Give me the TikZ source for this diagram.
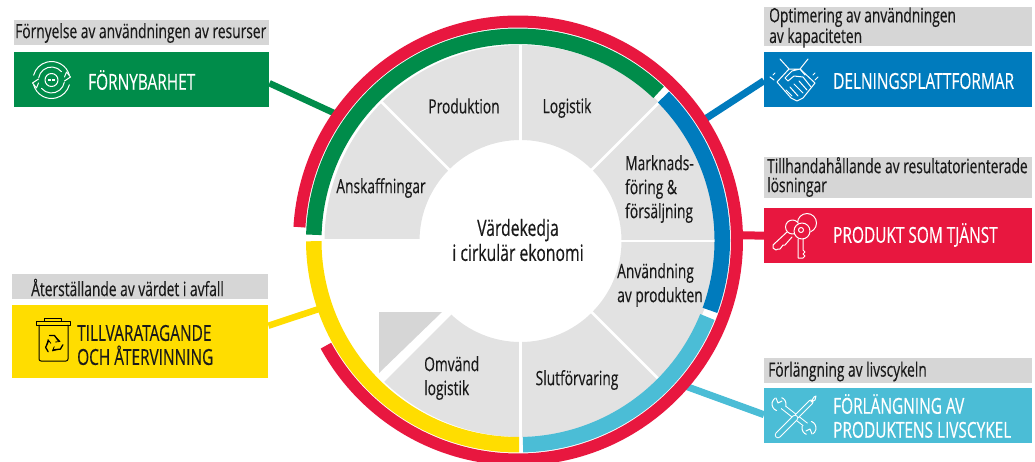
\documentclass[tikz,border=0pt]{standalone}
\usepackage{fontspec}
\setmainfont[FakeStretch=0.70,FakeBold=0.3]{Open Sans}
\usetikzlibrary{backgrounds,calc}
\definecolor{cgreen}{HTML}{008C4A}
\definecolor{cyellow}{HTML}{FFDD00}
\definecolor{cblue}{HTML}{007BBD}
\definecolor{cred}{HTML}{E8173F}
\definecolor{clblue}{HTML}{4BBDD6}
\definecolor{cgray}{HTML}{D6D6D6}
\definecolor{csector}{HTML}{E2E2E2}
\definecolor{ctxt}{HTML}{1A1A1A}
\tikzset{
  capbox/.style={fill=cgray,inner sep=0pt,minimum width=#1,anchor=north west},
  colbox/.style={fill=#1,inner sep=0pt,anchor=north west},
  captxt/.style={anchor=west,align=left,inner sep=0pt,text=ctxt,font=\fontsize{19.7}{19}\selectfont},
  boxtxt/.style={anchor=west,align=left,inner sep=0pt,font=\fontsize{22}{24}\selectfont},
  sectxt/.style={inner sep=0pt,text=ctxt,font=\fontsize{19.7}{24}\selectfont},
  link/.style={line width=#1},
  icon/.style={white,line width=1pt,line cap=round,line join=round},
}
\newcommand{\ringseg}[5]{\draw[#1,line width=#2-#3] ({-(#4)}:{(#2+#3)/2}) arc[start angle={-(#4)},end angle={-(#5)},radius={(#2+#3)/2}];}
\newcommand{\sectorseg}[2]{\fill[csector] ({-(#1)}:196) arc[start angle={-(#1)},end angle={-(#2)},radius=196] -- ({-(#2)}:101) arc[start angle={-(#2)},end angle={-(#1)},radius=101] -- cycle;}
\newcommand{\iarc}[3]{({-(#2)}:#1) arc[start angle={-(#2)},end angle={-(#3)},radius=#1]}
\begin{document}
\begin{tikzpicture}[x=1pt,y=-1pt]
\useasboundingbox (0,0) rectangle (1035,461);
\clip (0,0) rectangle (1035,461);
% sectors
\begin{scope}[shift={(520.5,241)}]
  \sectorseg{0}{45}\sectorseg{45}{90}\sectorseg{90}{135}\sectorseg{135}{180}
  \sectorseg{225}{270}\sectorseg{270}{315}\sectorseg{315}{360}
  \foreach \a in {0,45,90,135,270,315}{\draw[white,line width=2.6] (-\a:99)--(-\a:198);}
  \draw[white,line width=4] (-180:99)--(-180:198);
  \draw[white,line width=6] (-225:99)--(-225:198);
\end{scope}
\fill[cgray] (379,312)--(442,312)--(379,373)--cycle;
% rings
\begin{scope}[shift={(518,240.5)}]
  \coordinate (gend) at (-145.2:222);
  \coordinate (bend) at (-33:222);
  \coordinate (rend) at (-1.4:220);
  \coordinate (lend) at (41:222);
  \coordinate (yend) at (-199:205);
  \ringseg{cred}{225}{213}{176.5}{-151.3}
  \ringseg{cgreen}{212}{196.5}{178.4}{46.5}
  \ringseg{cblue}{212}{196.5}{44.6}{-20}
  \ringseg{clblue}{212}{196.5}{-22}{-88.6}
  \ringseg{cyellow}{212}{196.5}{180.2}{270.3}
\end{scope}
% caption bars
\node[capbox=255pt,minimum height=25pt] (c1) at (14,20) {};
\node[capbox=256pt,minimum height=25pt] (c2) at (12,274) {};
\node[capbox=268pt,minimum height=39pt] (c3) at (764,7) {};
\node[capbox=268pt,minimum height=41pt] (c4) at (764,157) {};
\node[capbox=268pt,minimum height=25pt] (c5) at (764,358) {};
% colour boxes
\node[colbox=cgreen,minimum width=255pt,minimum height=55pt] (g) at (14,52) {};
\node[colbox=cyellow,minimum width=256pt,minimum height=73pt] (y) at (12,305) {};
\node[colbox=cblue,minimum width=268pt,minimum height=55pt] (b) at (764,52) {};
\node[colbox=cred,minimum width=268pt,minimum height=55pt] (r) at (764,208) {};
\node[colbox=clblue,minimum width=268pt,minimum height=55pt] (l) at (764,388) {};
% connectors
\begin{scope}[on background layer]
  \draw[cgreen,link=6.5] ($(g.east)+(0,3.5)$) -- (gend);
  \draw[cyellow,link=6.5] ($(y.east)+(0,-16)$) -- (yend);
  \draw[cblue,link=7] ($(b.west)+(0,1)$) -- (bend);
  \draw[cred,link=8] (r.west) -- (rend);
  \draw[clblue,link=7] ($(l.west)+(0,-1)$) -- (lend);
\end{scope}
% captions
\node[captxt] (t1) at (15,33) {Förnyelse av användningen av resurser};
\node[captxt] (t2) at (31,287.5) {Återställande av värdet i avfall};
\node[captxt] (t3) at (769,27.5) {Optimering av användningen\\av kapaciteten};
\node[captxt] (t4) at (767,177) {Tillhandahållande av resultatorienterade\\lösningar};
\node[captxt] (t5) at (768,371.5) {Förlängning av livscykeln};
% box text
\node[boxtxt,text=white] (n1) at (88,80) {FÖRNYBARHET};
\node[boxtxt,text=ctxt] (n2) at (77,345) {TILLVARATAGANDE\\OCH ÅTERVINNING};
\node[boxtxt,text=white] (n3) at (833,81) {DELNINGSPLATTFORMAR};
\node[boxtxt,text=white] (n4) at (833,235) {PRODUKT SOM TJÄNST};
\node[boxtxt,text=white] (n5) at (833,416) {FÖRLÄNGNING AV\\PRODUKTENS LIVSCYKEL};
% sector text
\node[sectxt] (s1) at (381,188) {Anskaffningar};
\node[sectxt] (s2) at (464,106) {Produktion};
\node[sectxt] (s3) at (567,108) {Logistik};
\node[sectxt,anchor=west,align=left] (s4) at (625,189) {Marknads-\\föring \&\\försäljning};
\node[sectxt,anchor=west,align=left] (s5) at (617,285) {Användning\\av produkten};
\node[sectxt] (s6) at (577,380) {Slutförvaring};
\node[sectxt,anchor=west,align=left] (s7) at (424,378) {Omvänd\\logistik};
\node[inner sep=0pt,text=ctxt,align=center,font=\fontsize{22.5}{25}\selectfont] (m) at (518,240) {Värdekedja\\i cirkulär ekonomi};
% icon: renewal
\begin{scope}[shift={(51.5,80)},icon]
  \draw (0,0) circle (6.5);
  \draw[line width=1.5,line cap=butt] (-3.5,0)--(-.7,0) (.7,0)--(3.5,0);
  \draw \iarc{18.5}{15}{165} \iarc{18.5}{195}{345};
  \draw \iarc{13}{40}{170} \iarc{13}{220}{350};
  \draw (-13,-1)--(-19,3)--(-15,8)--(-13,3) (13,1)--(19,-3)--(15,-8)--(13,-3);
\end{scope}
% icon: bin
\begin{scope}[black,line width=1pt,line join=round,line cap=round]
  \draw (36,321) rectangle (70,325);
  \draw (44,321)--(44,318)--(61,318)--(61,321);
  \draw (39,325)--(39,359) arc[start angle=180,end angle=90,radius=2] --(66,361) arc[start angle=90,end angle=0,radius=2] --(68,325);
  \begin{scope}[shift={(53.5,344)}]
    \foreach \a in {0,120,240}{
      \begin{scope}[rotate=\a]
        \draw[line width=1.3pt] (-4,-8.5)--(1,-8.5)--(5,-3);
        \draw[line width=.8pt] (3,-6)--(6.5,-2.5)--(2,-2);
      \end{scope}}
  \end{scope}
\end{scope}
% icon: handshake
\begin{scope}[icon]
  \draw (780,59)--(789,69)--(777,82)--(791,98)--(797,101)--(803,98)--(815,83)--(800,69)--(808,59);
  \draw (789,69)--(800,69)--(805,75) (800,69)--(792,71)--(785,78)--(788,81)--(794,76)--(803,77)--(811,87);
  \draw (786,90)--(792,96) (790,87)--(798,96) (794,84)--(803,93) (799,81)--(807,90);
  \draw (770,77)--(774,80) (773,75)--(775,73) (818,77)--(815,80) (815,73)--(813,75);
\end{scope}
% icon: keys
\begin{scope}[icon]
  \draw (807,223) circle (9.5);
  \fill[cred] (792.5,227) circle (7);
  \draw (792.5,227) circle (7);
  \draw (787,232)--(773,245)--(773,248)--(776,250)--(778,249)--(780,249)--(783,245)--(785,245)--(792,237);
  \fill[cred] (802,231) circle (8.5);
  \draw (802,231) circle (8);
  \draw (801,230) circle (2.5);
  \draw (798,239)--(798,258)--(803,258)--(805,256)--(803,254)--(805,252)--(803,250)--(803,239);
\end{scope}
% icon: tools
\begin{scope}[white,line width=1pt,line join=round,line cap=round]
  \draw[double=clblue,double distance=3.5pt] (783,407)--(806,425);
  \begin{scope}[shift={(779,404)}]
    \draw[fill=clblue] \iarc{7}{-15}{250};
    \fill[clblue] (-1,-1) -- (-5,-9) -- (4,-9) -- cycle;
    \draw (-3,-6)--(-1,-1)--(3,-3);
  \end{scope}
  \begin{scope}[shift={(809,428)}]
    \draw[fill=clblue] \iarc{7}{165}{430};
    \fill[clblue] (1,1) -- (5,9) -- (-4,9) -- cycle;
    \draw (3,6)--(1,1)--(-3,3);
  \end{scope}
  \draw[double=clblue,double distance=3pt] (811,402)--(797,416);
  \draw[double=clblue,double distance=4.5pt] (795,418)--(778,435);
  \draw (811,402)--(814,397)--(816,396)--(815,400)--(811,402);
\end{scope}
\end{tikzpicture}
\end{document}
